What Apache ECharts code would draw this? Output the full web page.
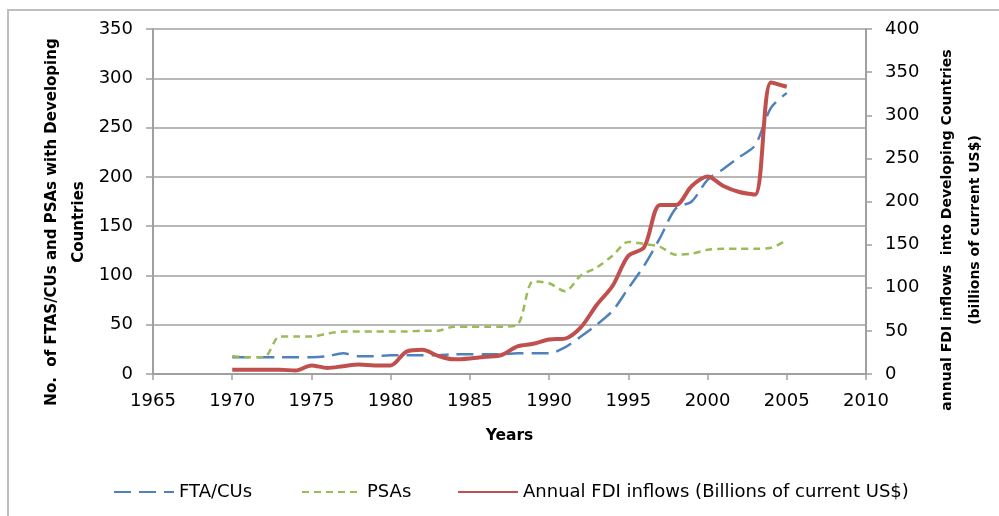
<!DOCTYPE html>
<html>
<head>
<meta charset="utf-8">
<script src="https://cdn.jsdelivr.net/npm/echarts@6/dist/echarts.min.js"></script>
<style>
  html, body { margin: 0; padding: 0; background: #fff; }
  #chart { width: 999px; height: 516px; }
</style>
</head>
<body>
<div id="chart"></div>
<script>
// years on the x axis
const years = [1970, 1971, 1972, 1973, 1974, 1975, 1976, 1977, 1978, 1979,
  1980, 1981, 1982, 1983, 1984, 1985, 1986, 1987, 1988, 1989,
  1990, 1991, 1992, 1993, 1994, 1995, 1996, 1997, 1998, 1999,
  2000, 2001, 2002, 2003, 2004, 2005]

// number of FTA/CUs (left axis)
const ftaCus = [17, 17, 17, 17, 17, 17, 18, 21, 18, 18,
  19, 19, 19, 19, 20, 20, 20, 20, 21, 21,
  21, 27, 38, 50, 64, 87, 110, 138, 168, 175,
  197, 208, 220, 232, 270, 285]

// number of PSAs (left axis)
const psas = [18, 17, 17, 38, 38, 38, 41, 43, 43, 43,
  43, 43, 44, 44, 48, 48, 48, 48, 50, 94,
  92, 84, 100, 108, 120, 134, 132, 129, 121, 122,
  126, 127, 127, 127, 128, 136]

// annual FDI inflows, billions of current US$ (right axis)
const fdi = [5, 5, 5, 5, 4, 10, 7, 9, 11, 10,
  10, 26, 28, 21, 17, 18, 20, 22, 32, 35,
  40, 41, 54, 80, 102, 137, 147, 196, 196, 218,
  229, 218, 211, 208, 338, 333]

const leftTicks = { min: 0, max: 350, interval: 50 }
const rightTicks = { min: 0, max: 400, interval: 50 }
const xTicks = { min: 1965, max: 2010, interval: 5 }

const pair = arr => years.map((y, i) => [y, arr[i]])

const chart = echarts.init(document.getElementById('chart'))
const font = 'DejaVu Sans'
const axisGray = '#a0a0a0'

chart.setOption({
  backgroundColor: '#fff',
  animation: false,
  grid: { left: 153, right: 133, top: 29, bottom: 142 },
  legend: [
    { data: ['FTA/CUs'], left: 108, top: 478 },
    { data: ['PSAs'], left: 296, top: 478 },
    { data: ['Annual FDI inflows (Billions of current US$)'], left: 452, top: 478 }
  ].map(l => Object.assign(l, {
    itemWidth: 60,
    itemHeight: 14,
    itemGap: 6,
    itemStyle: { opacity: 0 },
    textStyle: { fontFamily: font, fontSize: 18, color: '#000' }
  })),
  graphic: [
    {
      type: 'rect', z: -1, silent: true,
      shape: { x: 8, y: 10, width: 1000, height: 520 },
      style: { fill: 'none', stroke: '#bfbfbf', lineWidth: 2 }
    },
    {
      type: 'text', x: 66, y: 222, rotation: Math.PI / 2,
      style: {
        text: 'No.  of FTAS/CUs and PSAs with Developing\nCountries',
        font: 'bold 15px "DejaVu Sans"', fill: '#000',
        textAlign: 'center', textVerticalAlign: 'middle', lineHeight: 27
      }
    },
    {
      type: 'text', x: 961, y: 230, rotation: Math.PI / 2,
      style: {
        text: 'annual FDI inflows  into Developing Countries\n(billions of current US$)',
        font: 'bold 14px "DejaVu Sans"', fill: '#000',
        textAlign: 'center', textVerticalAlign: 'middle', lineHeight: 28
      }
    }
  ],
  xAxis: {
    type: 'value',
    min: xTicks.min,
    max: xTicks.max,
    interval: xTicks.interval,
    name: 'Years',
    nameLocation: 'middle',
    nameGap: 54,
    nameTextStyle: { fontFamily: font, fontSize: 15.5, fontWeight: 'bold', color: '#000' },
    axisLine: { lineStyle: { color: axisGray, width: 2 } },
    axisTick: { length: 6, lineStyle: { color: axisGray, width: 1.5 } },
    splitLine: { show: false },
    axisLabel: {
      margin: 18,
      fontFamily: font, fontSize: 18, color: '#000',
      formatter: v => String(v)
    }
  },
  yAxis: [
    {
      type: 'value',
      min: leftTicks.min,
      max: leftTicks.max,
      interval: leftTicks.interval,
      axisLine: { show: true, lineStyle: { color: axisGray, width: 2 } },
      axisTick: { show: true, length: 7, lineStyle: { color: axisGray, width: 1.5 } },
      splitLine: { lineStyle: { color: axisGray, width: 1.5 } },
      axisLabel: { margin: 20, fontFamily: font, fontSize: 18, color: '#000' }
    },
    {
      type: 'value',
      position: 'right',
      min: rightTicks.min,
      max: rightTicks.max,
      interval: rightTicks.interval,
      axisLine: { show: true, lineStyle: { color: axisGray, width: 2 } },
      axisTick: { show: true, length: 6, lineStyle: { color: axisGray, width: 1.5 } },
      splitLine: { show: false },
      axisLabel: { margin: 19, fontFamily: font, fontSize: 18, color: '#000' }
    }
  ],
  series: [
    {
      name: 'FTA/CUs',
      type: 'line',
      yAxisIndex: 0,
      smooth: 0.3,
      symbol: 'none',
      data: pair(ftaCus),
      itemStyle: { color: '#4F81BD' },
      lineStyle: { color: '#4F81BD', width: 2.5, type: [17, 8] }
    },
    {
      name: 'PSAs',
      type: 'line',
      yAxisIndex: 0,
      smooth: 0.3,
      symbol: 'none',
      data: pair(psas),
      itemStyle: { color: '#9BBB59' },
      lineStyle: { color: '#9BBB59', width: 2.5, type: [7, 5] }
    },
    {
      name: 'Annual FDI inflows (Billions of current US$)',
      type: 'line',
      yAxisIndex: 1,
      smooth: 0.3,
      symbol: 'none',
      data: pair(fdi),
      itemStyle: { color: '#C0504D' },
      lineStyle: { color: '#C0504D', width: 4 }
    }
  ]
})
</script>
</body>
</html>
